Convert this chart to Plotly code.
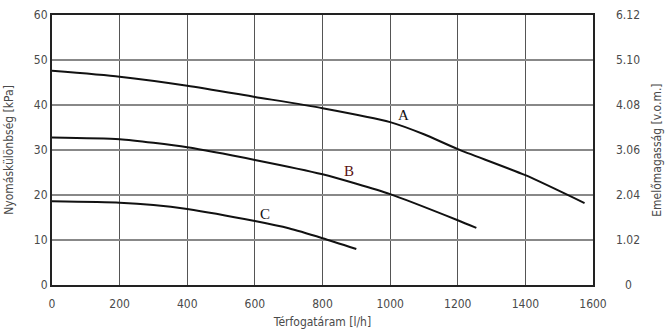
import plotly.graph_objects as go

# Data (flow l/h, pressure kPa)
a_x = [0, 200, 400, 600, 800, 1000, 1100, 1200, 1400, 1575]
a_y = [47.6, 46.3, 44.3, 41.8, 39.3, 36.2, 33.5, 30.2, 24.4, 18.2]
b_x = [0, 200, 400, 600, 800, 1000, 1200, 1255]
b_y = [32.8, 32.4, 30.6, 27.8, 24.6, 20.2, 14.4, 12.7]
c_x = [0, 200, 300, 400, 600, 700, 800, 900]
c_y = [18.6, 18.3, 17.8, 16.9, 14.2, 12.6, 10.4, 8.0]
labels = ["A", "B", "C"]
label_x = [1041, 879, 630]
label_y = [37.8, 25.3, 15.8]
label_colors = ["#111111", "#5a1212", "#111111"]
x_ticks = [0, 200, 400, 600, 800, 1000, 1200, 1400, 1600]
y_ticks = [0, 10, 20, 30, 40, 50, 60]
y2_ticks = [0, 1.02, 2.04, 3.06, 4.08, 5.10, 6.12]
y2_text = ["0", "1.02", "2.04", "3.06", "4.08", "5.10", "6.12"]

font_fam = "DejaVu Sans Condensed, DejaVu Sans, sans-serif"
tick_color = "#4a4a4a"

fig = go.Figure()
for xs, ys in [(a_x, a_y), (b_x, b_y), (c_x, c_y)]:
    fig.add_trace(go.Scatter(x=xs, y=ys, mode="lines", line=dict(color="#111111", width=2, shape="spline", smoothing=0.6),
                             showlegend=False, hoverinfo="skip"))
# secondary axis trace (invisible) carrying the v.o.m. scale
fig.add_trace(go.Scatter(x=[0], y=[0], yaxis="y2", mode="markers", marker=dict(opacity=0), showlegend=False, hoverinfo="skip"))

for t, lx, ly, c in zip(labels, label_x, label_y, label_colors):
    fig.add_annotation(x=lx, y=ly, text=t, showarrow=False, font=dict(family="Liberation Serif, Times New Roman, serif", size=15, color=c),
                       xanchor="center", yanchor="middle")

# right axis tick labels, centred in the right margin
for v, t in zip(y2_ticks, y2_text):
    fig.add_annotation(x=1.0647, xref="paper", y=v, yref="y2", text=t, showarrow=False,
                       font=dict(family=font_fam, size=12, color=tick_color), xanchor="center", yanchor="middle")
fig.add_annotation(x=1.118, xref="paper", y=0.5, yref="paper", text="Emelőmagasság [v.o.m.]", textangle=-90,
                   showarrow=False, font=dict(family=font_fam, size=12, color=tick_color), xanchor="center", yanchor="middle")

fig.update_layout(
    width=669, height=334,
    margin=dict(l=52, r=76, t=15, b=49),
    paper_bgcolor="white", plot_bgcolor="white",
    font=dict(family=font_fam, size=12, color=tick_color),
    xaxis=dict(range=[0, 1600], tickvals=x_ticks, showgrid=True, gridcolor="#555555", gridwidth=1.2,
               showline=True, linecolor="#222222", linewidth=2, mirror=True, zeroline=False, automargin=False,
               ticks="", ticklen=0, ticklabelstandoff=7, tickfont=dict(size=12, color=tick_color),
               title=dict(text="Térfogatáram [l/h]", font=dict(size=12, color=tick_color), standoff=7)),
    yaxis=dict(range=[0, 60], tickvals=y_ticks, showgrid=True, gridcolor="#888888", gridwidth=1.5,
               showline=True, linecolor="#222222", linewidth=2, mirror=True, zeroline=False, automargin=False,
               ticks="", tickfont=dict(size=12, color=tick_color),
               title=dict(text="Nyomáskülönbség [kPa]", font=dict(size=12, color=tick_color), standoff=18)),
    yaxis2=dict(range=[0, 6.12], tickvals=y2_ticks, overlaying="y", side="right", automargin=False,
                showgrid=False, zeroline=False, showline=False, ticks="", showticklabels=False),
)

fig.write_html("out.html")
